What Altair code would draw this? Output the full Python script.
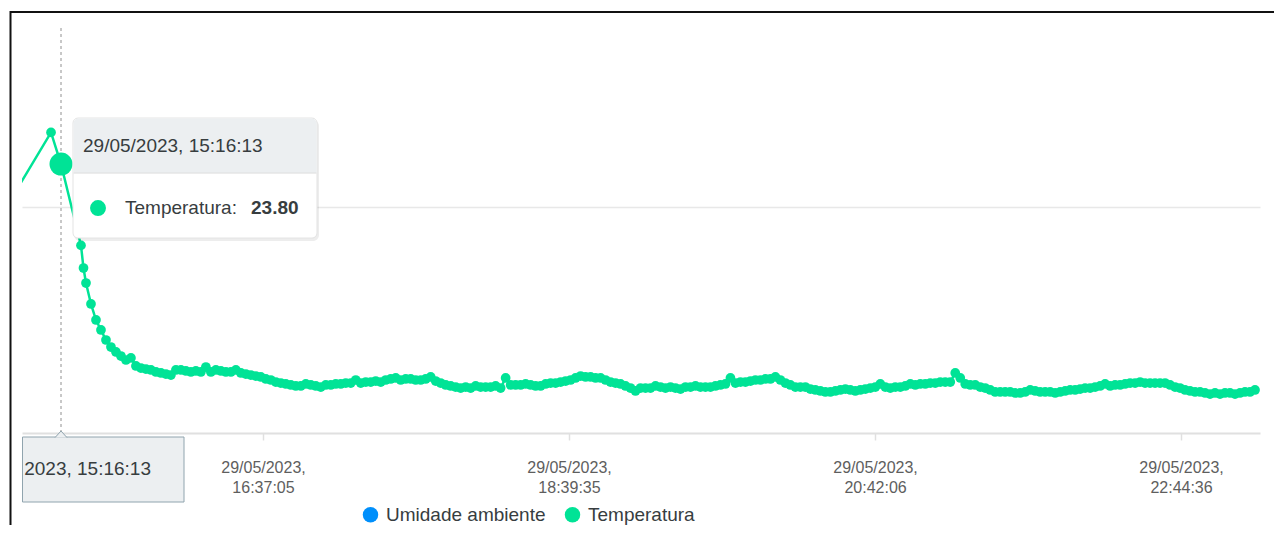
import altair as alt
import pandas as pd

FONT = "Liberation Sans, Arial, Helvetica, sans-serif"
GREEN = "#00E396"
BLUE = "#008FFB"

# ---- data ----
SERIES = ["Umidade ambiente", "Temperatura"]
SERIES_COLORS = [BLUE, GREEN]

early_times = ["2023-05-29 14:56:13", "2023-05-29 15:12:13", "2023-05-29 15:16:13",
               "2023-05-29 15:24:13", "2023-05-29 15:25:13"]
early_temps = [20.7, 26.6, 23.8, 16.6, 14.6]

regular_start = "2023-05-29 15:26:13"
regular_step_s = 120
regular_temps = [
    13.27, 11.42, 10.00, 9.12, 8.23, 7.61, 7.17, 6.81, 6.46, 6.64,
    5.93, 5.75, 5.66, 5.58, 5.40, 5.31, 5.22, 5.13, 5.58, 5.58,
    5.49, 5.40, 5.49, 5.40, 5.84, 5.40, 5.58, 5.49, 5.40, 5.40,
    5.58, 5.31, 5.22, 5.13, 5.04, 4.96, 4.78, 4.69, 4.51, 4.42,
    4.34, 4.25, 4.16, 4.16, 4.34, 4.25, 4.16, 4.07, 4.25, 4.25,
    4.34, 4.34, 4.42, 4.42, 4.69, 4.42, 4.51, 4.51, 4.60, 4.51,
    4.69, 4.78, 4.87, 4.69, 4.78, 4.78, 4.69, 4.69, 4.78, 4.96,
    4.60, 4.42, 4.25, 4.16, 4.07, 3.98, 4.07, 3.98, 4.16, 4.07,
    4.07, 4.07, 4.16, 3.98, 4.87, 4.25, 4.25, 4.25, 4.34, 4.25,
    4.16, 4.16, 4.34, 4.42, 4.42, 4.51, 4.60, 4.69, 4.87, 5.04,
    4.96, 4.96, 4.87, 4.87, 4.69, 4.51, 4.42, 4.34, 4.16, 3.98,
    3.72, 3.98, 3.98, 3.98, 4.16, 4.07, 3.98, 4.07, 3.98, 3.89,
    4.07, 4.07, 4.16, 4.07, 4.07, 4.07, 4.16, 4.25, 4.34, 4.87,
    4.42, 4.51, 4.51, 4.60, 4.69, 4.69, 4.78, 4.78, 4.96, 4.69,
    4.42, 4.25, 4.07, 4.07, 4.07, 3.89, 3.81, 3.72, 3.63, 3.63,
    3.72, 3.81, 3.89, 3.81, 3.72, 3.81, 3.89, 3.98, 4.07, 4.34,
    4.07, 3.98, 4.07, 4.07, 4.16, 4.34, 4.25, 4.34, 4.34, 4.42,
    4.42, 4.51, 4.51, 4.51, 5.31, 4.87, 4.34, 4.25, 4.25, 4.07,
    3.98, 3.81, 3.63, 3.63, 3.63, 3.63, 3.54, 3.54, 3.63, 3.81,
    3.72, 3.63, 3.63, 3.63, 3.54, 3.63, 3.72, 3.81, 3.81, 3.89,
    3.98, 3.98, 4.07, 4.16, 4.34, 4.16, 4.25, 4.25, 4.34, 4.42,
    4.42, 4.51, 4.42, 4.42, 4.42, 4.42, 4.42, 4.25, 4.07, 3.98,
    3.81, 3.72, 3.63, 3.63, 3.54, 3.45, 3.54, 3.45, 3.54, 3.54,
    3.45, 3.54, 3.63, 3.63, 3.81,
]

tick_times = ["2023-05-29 16:37:05", "2023-05-29 18:39:35",
              "2023-05-29 20:42:06", "2023-05-29 22:44:36"]
x_domain_times = ["2023-05-29 15:00:36", "2023-05-29 23:16:13"]
y_domain = [0, 35.84]
grid_values = [20]

hover_time = "2023-05-29 15:16:13"
hover_value = 23.80
hover_header = "29/05/2023, 15:16:13"
hover_name = "Temperatura:"
hover_axis_label = "2023, 15:16:13"


def ms(s):
    return int(pd.Timestamp(s, tz="UTC").value // 10**6)


base_ms = ms(regular_start)
times_ms = [ms(s) for s in early_times] + [base_ms + i * regular_step_s * 1000 for i in range(len(regular_temps))]
temps = early_temps + regular_temps
temp_df = pd.DataFrame({"t": times_ms, "v": temps, "s": "Temperatura"})

hover_df = pd.DataFrame({"t": [ms(hover_time)], "v": [hover_value], "head": [hover_header],
                         "name": [hover_name], "axis_label": [hover_axis_label]})

x_enc = alt.X(
    "t:T",
    scale=alt.Scale(domain=[ms(s) for s in x_domain_times], nice=False),
    axis=alt.Axis(
        values=[ms(s) for s in tick_times],
        labelExpr="[utcFormat(datum.value, '%d/%m/%Y,'), utcFormat(datum.value, '%H:%M:%S')]",
        title="", grid=False,
        domainColor="#e0e0e0", domainWidth=2,
        tickColor="#e0e0e0", tickWidth=1.5, tickSize=7,
        labelFontSize=16, labelColor="#5e5e5e", labelFont=FONT,
        labelPadding=19, labelLineHeight=20, labelOverlap=False, labelFlush=False,
    ),
)
y_enc = alt.Y(
    "v:Q",
    scale=alt.Scale(domain=y_domain, nice=False, zero=False),
    axis=alt.Axis(values=grid_values, grid=True, gridColor="#e8e8e8", gridWidth=1.5,
                  labels=False, ticks=False, domain=False, title=""),
)

crosshair = alt.Chart(hover_df).mark_rule(color="#b6b6b6", strokeDash=[3, 3], strokeWidth=1.5).encode(x=x_enc)

line = alt.Chart(temp_df).mark_line(color=GREEN, strokeWidth=2.5, clip=True).encode(x=x_enc, y=y_enc)

points = alt.Chart(temp_df).mark_circle(size=95, opacity=1, clip=True).encode(
    x=x_enc, y=y_enc,
    color=alt.Color("s:N", scale=alt.Scale(domain=SERIES, range=SERIES_COLORS),
                    legend=alt.Legend(title=None, orient="none", legendX=339, legendY=477,
                                      direction="horizontal", symbolType="circle",
                                      symbolSize=240, symbolStrokeWidth=0, symbolOpacity=1,
                                      labelFontSize=19, labelColor="#373d3f", labelFont=FONT,
                                      labelOffset=6, columnPadding=17, padding=0, labelLimit=400)),
)

hover_marker = alt.Chart(hover_df).mark_circle(size=530, color=GREEN, opacity=1).encode(x=x_enc, y=y_enc)

tip_shadow = alt.Chart(hover_df).mark_rect(
    xOffset=13, x2Offset=258, yOffset=-44, y2Offset=77, cornerRadius=6, color="#000000", opacity=0.07
).encode(x=x_enc, x2=alt.X2("t"), y=y_enc, y2=alt.Y2("v"))

tip_box = alt.Chart(hover_df).mark_rect(
    xOffset=12, x2Offset=256, yOffset=-46, y2Offset=74, cornerRadius=5,
    fill="#ffffff", stroke="#e3e3e3", strokeWidth=1
).encode(x=x_enc, x2=alt.X2("t"), y=y_enc, y2=alt.Y2("v"))

tip_head = alt.Chart(hover_df).mark_rect(
    xOffset=12.5, x2Offset=255.5, yOffset=-45.5, y2Offset=9,
    fill="#ECEFF1", cornerRadiusTopLeft=5, cornerRadiusTopRight=5
).encode(x=x_enc, x2=alt.X2("t"), y=y_enc, y2=alt.Y2("v"))

tip_sep = alt.Chart(hover_df).mark_rule(
    color="#dddddd", strokeWidth=1, xOffset=12.5, x2Offset=255.5, yOffset=9
).encode(x=x_enc, x2=alt.X2("t"), y=y_enc)

tip_head_text = alt.Chart(hover_df).mark_text(
    align="left", baseline="middle", dx=22, dy=-18.5, fontSize=19, color="#373d3f", font=FONT
).encode(x=x_enc, y=y_enc, text="head:N")

tip_dot = alt.Chart(hover_df).mark_circle(size=254, color=GREEN, opacity=1, xOffset=37, yOffset=44).encode(
    x=x_enc, y=y_enc)

tip_name = alt.Chart(hover_df).mark_text(
    align="left", baseline="middle", dx=64, dy=44, fontSize=19, color="#373d3f", font=FONT
).encode(x=x_enc, y=y_enc, text="name:N")

tip_value = alt.Chart(hover_df).mark_text(
    align="left", baseline="middle", dx=190, dy=44, fontSize=19, fontWeight="bold", color="#373d3f", font=FONT
).encode(x=x_enc, y=y_enc, text=alt.Text("v:Q", format=".2f"))

xtip_box = alt.Chart(hover_df).mark_rect(
    xOffset=-38.5, x2Offset=123, fill="#ECEFF1", stroke="#90A4AE", strokeWidth=1
).encode(x=x_enc, x2=alt.X2("t"), y=alt.value(409), y2=alt.value(474))

xtip_arrow = alt.Chart(hover_df).mark_point(
    shape="M-1,0.6L0,-0.5L1,0.6", size=144, filled=True, fill="#ECEFF1",
    stroke="#90A4AE", strokeWidth=1, opacity=1
).encode(x=x_enc, y=alt.value(406))

xtip_text = alt.Chart(hover_df).mark_text(
    align="right", baseline="middle", dx=90, fontSize=19, color="#373d3f", font=FONT
).encode(x=x_enc, y=alt.value(441), text="axis_label:N")

frame_top = alt.Chart(hover_df).mark_rule(color="#111111", strokeWidth=2).encode(
    x=alt.value(-11.5), x2=alt.value(1260), y=alt.value(-16))
frame_left = alt.Chart(hover_df).mark_rule(color="#111111", strokeWidth=2).encode(
    x=alt.value(-11.5), y=alt.value(-17), y2=alt.value(520))

chart = alt.layer(
    crosshair, line, points, hover_marker,
    tip_shadow, tip_box, tip_head, tip_sep, tip_head_text, tip_dot, tip_name, tip_value,
    xtip_box, xtip_arrow, xtip_text, frame_top, frame_left,
).properties(
    width=1238, height=405,
    padding={"left": 14, "top": 20, "right": 14, "bottom": 92},
    autosize=alt.AutoSizeParams(type="none"),
    background="#ffffff",
).configure_view(strokeWidth=0).configure_text(font=FONT)

chart.save("out.html", embed_options={"renderer": "svg", "actions": False})
